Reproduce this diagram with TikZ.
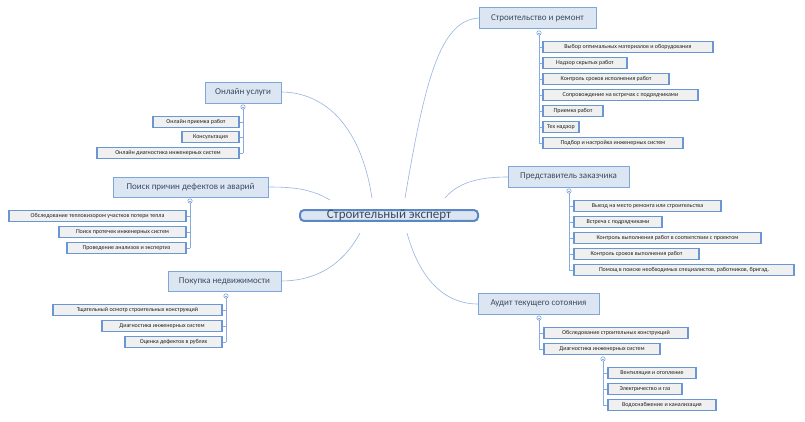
\documentclass[tikz,border=0pt]{standalone}
\usepackage{fontspec}
\setmainfont{Carlito}
\tikzset{
  leaf/.style={draw=lbord,line width=1.1pt,fill=lfill,inner sep=0pt,minimum height=11pt,font=\fontsize{6}{7}\selectfont,text=txt},
  topic/.style={draw=tbord,line width=0.9pt,fill=tfill,inner sep=0pt,font=\fontsize{9}{10}\selectfont,text=ttxt},
  central/.style={draw=cbord,line width=2pt,fill=tfill,rounded corners=4pt,inner sep=0pt,font=\fontsize{13}{15}\selectfont,text=ttxt},
  curve/.style={draw=lbord!70,line width=0.6pt},
  bar/.style={draw=lbord!80,line width=0.6pt},
  dotc/.style={draw=lbord,fill=white,line width=0.5pt}
}
\definecolor{lbord}{HTML}{6A96D4}
\definecolor{lfill}{HTML}{F0F0F0}
\definecolor{txt}{HTML}{202020}
\definecolor{tbord}{HTML}{7FA6D8}
\definecolor{tfill}{HTML}{DCE6F2}
\definecolor{ttxt}{HTML}{3A4A60}
\definecolor{cbord}{HTML}{5A88C4}
\newcommand{\boxat}[6]{\node[#1,minimum width={(#3-#2)*1pt}] (#6) at ({(#2+#3)/2},#4) {#5};}
\newcommand{\hub}[5]{% name, barx, doty, lasty, list of y
  \draw[bar] (#2,#3) -- (#2,#4);
  \foreach \yy/\xx in {#5} \draw[bar] (#2,\yy) -- (\xx,\yy);
  \draw[dotc] (#2,#3) circle (2.2pt);
  \draw[bar] (#2,#3) ++(-1.3pt,0) -- ++(2.6pt,0);
}
\begin{document}
\begin{tikzpicture}[x=1pt,y=-1pt]
\useasboundingbox[fill=white] (0,0) rectangle (805,421);
% curves
\draw[curve] (405,198) .. controls (425,80) and (440,20) .. (479,18);
\draw[curve] (372,198) .. controls (360,120) and (320,92) .. (281,92);
\draw[curve] (330,200) .. controls (310,188) and (290,187) .. (268,187);
\draw[curve] (360,233) .. controls (340,270) and (310,281) .. (281,281);
\draw[curve] (445,198) .. controls (460,180) and (485,177) .. (508,177);
\draw[curve] (407,233) .. controls (420,280) and (445,304) .. (478,304);
% central
\boxat{central}{300}{478}{215.5}{Строительный эксперт}{c}
\node at (c) {};
\path (c.center) node[minimum height=35pt] {};
% topics
\boxat{topic,minimum height=21pt}{479}{596}{18}{Строительство и ремонт}{t1}
\boxat{topic,minimum height=21pt}{205}{281}{92.5}{Онлайн услуги}{t2}
\boxat{topic,minimum height=20pt}{113}{268}{187}{Поиск причин дефектов и аварий}{t3}
\boxat{topic,minimum height=20pt}{168}{281}{281}{Покупка недвижимости}{t4}
\boxat{topic,minimum height=21pt}{508}{629}{176.5}{Представитель заказчика}{t5}
\boxat{topic,minimum height=21pt}{478}{599}{303.5}{Аудит текущего сотояния}{t6}
% hubs
\hub{h1}{539}{33}{143}{47/543,63/543,79/543,95/543,111/543,127/543,143/543}
\hub{h2}{243}{107}{153}{122/239,137/239,153/239}
\hub{h3}{190}{201}{248}{216/186,232/186,248/186}
\hub{h4}{226}{296}{342}{310/222,326/222,342/222}
\hub{h5}{569}{191}{270}{206/574,222/574,238/574,254/574,270/574}
\hub{h6}{539}{318}{349}{333/544,349/544}
\hub{h7}{603}{359}{405}{373/608,389/608,405/608}
% leaves
\boxat{leaf}{543}{713}{47}{Выбор оптимальных материалов и оборудования}{a1}
\boxat{leaf}{543}{627}{63}{Надзор скрытых работ}{a2}
\boxat{leaf}{543}{669}{79}{Контроль сроков исполнения работ}{a3}
\boxat{leaf}{543}{698}{95}{Сопровождение на встречах с подрядчиками}{a4}
\boxat{leaf}{543}{603}{111}{Приемка работ}{a5}
\boxat{leaf}{543}{579}{127}{Тех надзор}{a6}
\boxat{leaf}{543}{683}{143}{Подбор и настройка инженерных систем}{a7}
\boxat{leaf}{153}{239}{122}{Онлайн приемка работ}{b1}
\boxat{leaf}{182}{239}{137}{Консультация}{b2}
\boxat{leaf}{97}{239}{153}{Онлайн диагностика инженерных систем}{b3}
\boxat{leaf}{9}{186}{216}{Обследование тепловизором участков потери тепла}{d1}
\boxat{leaf}{59}{186}{232}{Поиск протечек инженерных систем}{d2}
\boxat{leaf}{67}{186}{248}{Проведение анализов и экспертиз}{d3}
\boxat{leaf}{53}{222}{310}{Тщательный осмотр строительных конструкций}{e1}
\boxat{leaf}{102}{222}{326}{Диагностика инженерных систем}{e2}
\boxat{leaf}{125}{222}{342}{Оценка дефектов в рублях}{e3}
\boxat{leaf}{574}{721}{206}{Выезд на место ремонта или строительства}{f1}
\boxat{leaf}{574}{662}{222}{Встреча с подрядчиками}{f2}
\boxat{leaf}{574}{761}{238}{Контроль выполнения работ в соответствии с проектом}{f3}
\boxat{leaf}{574}{699}{254}{Контроль сроков выполнения работ}{f4}
\boxat{leaf}{574}{794}{270}{Помощ в поиске необходимых специалистов, работников, бригад.}{f5}
\boxat{leaf}{544}{688}{333}{Обследование строительных конструкций}{g1}
\boxat{leaf}{544}{660}{349}{Диагностика инженерных систем}{g2}
\boxat{leaf}{608}{696}{373}{Вентиляция и отопление}{k1}
\boxat{leaf}{608}{682}{389}{Электричество и газ}{k2}
\boxat{leaf}{608}{716}{405}{Водоснабжение и канализация}{k3}
\end{tikzpicture}
\end{document}
